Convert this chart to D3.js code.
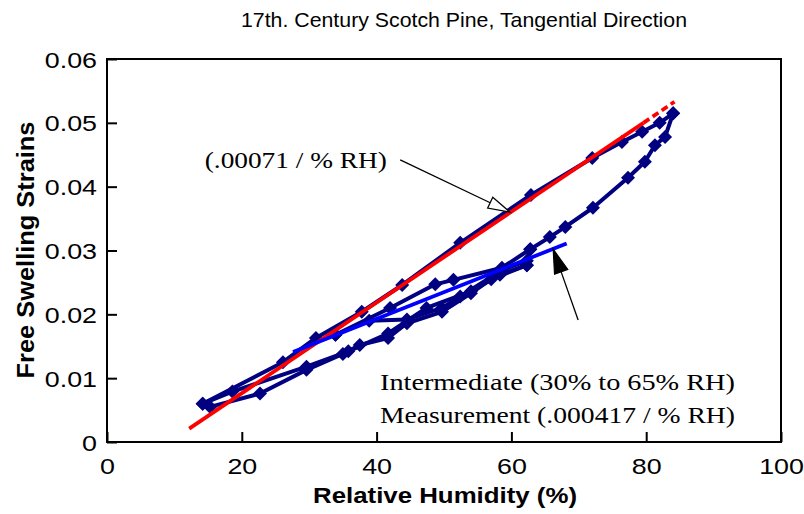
<!DOCTYPE html>
<html><head><meta charset="utf-8">
<script src="https://cdn.jsdelivr.net/npm/d3@7"></script>
<style>body{margin:0;background:#fff}svg{display:block}</style>
</head><body><svg id="c" width="804" height="514"></svg>
<script>
// ---- data ----
const xTicks = [0, 20, 40, 60, 80, 100];
const yTicks = [0, 0.01, 0.02, 0.03, 0.04, 0.05, 0.06];
const yTickLabels = ["0", "0.01", "0.02", "0.03", "0.04", "0.05", "0.06"];

// outer adsorption branch
const rhUp     = [14.2, 26.1, 31.0, 37.8, 43.8, 52.4, 62.9, 72.0, 76.4, 79.4, 82.0, 84.0];
const strainUp = [0.0060, 0.0125, 0.0163, 0.0204, 0.0246, 0.0312, 0.0387, 0.0445, 0.0470, 0.0486, 0.0500, 0.0515];
// outer desorption branch into the intermediate band
const rhDown     = [84.0, 82.8, 81.3, 79.8, 77.3, 72.1, 68.0, 65.7, 62.8, 58.6, 51.4, 48.7, 42.0, 33.9];
const strainDown = [0.0515, 0.0478, 0.0465, 0.0439, 0.0414, 0.0367, 0.0337, 0.0321, 0.0302, 0.0273, 0.0254, 0.0247, 0.0210, 0.0168];
// intermediate cycles (30% - 65% RH)
const rhMid     = [33.9, 38.9, 44.5, 49.7, 52.4, 58.6, 62.3, 62.8];
const strainMid = [0.0168, 0.0190, 0.0192, 0.0210, 0.0228, 0.0269, 0.0284, 0.0302];
const rhLow1     = [14.2, 18.6, 29.6, 35.8, 41.7, 47.4, 54.0, 58.3, 62.3];
const strainLow1 = [0.0060, 0.0079, 0.0118, 0.0142, 0.0170, 0.0210, 0.0236, 0.0262, 0.0277];
const rhLow2     = [62.3, 57.0, 54.0, 49.7, 44.5, 41.7, 37.5, 35.0, 29.6, 22.7, 15.3];
const strainLow2 = [0.0277, 0.0255, 0.0233, 0.0204, 0.0186, 0.0163, 0.0152, 0.0138, 0.0113, 0.0076, 0.0055];

// fitted lines
const redRH = [12.2, 79.6], redStrain = [0.0021, 0.0500];       // .00071 / % RH
const redDashRH = [79.6, 84.2], redDashStrain = [0.0500, 0.0533];
const blueRH = [27.6, 68.2], blueStrain = [0.0141, 0.0311];     // .000417 / % RH

// annotations (data coordinates)
const ann1Text = "(.00071 / % RH)";
const ann1Pos = [14.5, 0.0429];
const arrow1 = {tail: [43.5, 0.0442], tip: [59.8, 0.0360]};
const ann2Lines = ["Intermediate  (30% to 65% RH)", "Measurement (.000417 / % RH)"];
const ann2Pos = [[40.5, 0.00815], [40.5, 0.00298]];
const arrow2 = {tail: [69.9, 0.0191], tip: [66.2, 0.0302]};

const title = "17th. Century Scotch Pine, Tangential Direction";
const xTitle = "Relative Humidity (%)";
const yTitle = "Free Swelling Strains";

// ---- drawing ----
const svg = d3.select("#c");
const L = 107, R = 781, T = 59, B = 442;
const x = d3.scaleLinear().domain([0, 100]).range([L, R]);
const y = d3.scaleLinear().domain([0, 0.06]).range([B, T]);
const SANS = "'Liberation Sans', Arial, Helvetica, sans-serif";
const SERIF = "'Liberation Serif', 'Times New Roman', Times, serif";
const K = 1.22; // horizontal glyph stretch seen in the reference
const NAVY = "#000080";

// axes
const xAxis = d3.axisBottom(x).tickValues(xTicks).tickSizeInner(-10).tickSizeOuter(0).tickFormat(d3.format("d"));
const gx = svg.append("g").attr("transform", `translate(0,${B})`).call(xAxis);
const yAxis = d3.axisLeft(y).tickValues(yTicks).tickSizeInner(-10).tickSizeOuter(0)
  .tickFormat((d, i) => yTickLabels[i]);
const gy = svg.append("g").attr("transform", `translate(${L},0)`).call(yAxis);
[gx, gy].forEach(g => {
  g.select(".domain").remove();
  g.selectAll(".tick line").attr("stroke", "#000").attr("stroke-width", 2);
  g.selectAll(".tick text").attr("fill", "#000").style("font-family", SANS).style("font-size", "22px");
});
gx.selectAll(".tick text").attr("y", 32).attr("dy", null)
  .attr("transform", `scale(${K},1)`).attr("x", 0);
gy.selectAll(".tick text").attr("x", -10 / K).attr("dy", null).attr("y", 8)
  .attr("transform", `scale(${K},1)`);

// frame
svg.append("rect").attr("x", L).attr("y", T).attr("width", R - L).attr("height", B - T)
  .attr("fill", "none").attr("stroke", "#000").attr("stroke-width", 2);

// data series
const series = [
  [rhUp, strainUp], [rhDown, strainDown], [rhMid, strainMid], [rhLow1, strainLow1], [rhLow2, strainLow2]
].map(([a, b]) => a.map((v, i) => [v, b[i]]));
const line = d3.line().x(d => x(d[0])).y(d => y(d[1]));
const gData = svg.append("g");
series.forEach(s => {
  gData.append("path").attr("d", line(s)).attr("fill", "none")
    .attr("stroke", NAVY).attr("stroke-width", 4).attr("stroke-linejoin", "round");
});
series.forEach(s => {
  gData.selectAll(null).data(s).enter().append("path")
    .attr("d", "M0,-7L7,0L0,7L-7,0Z")
    .attr("transform", d => `translate(${x(d[0])},${y(d[1])})`)
    .attr("fill", NAVY);
});

// fitted lines
const zip = (a, b) => a.map((v, i) => [v, b[i]]);
svg.append("path").attr("d", line(zip(redRH, redStrain))).attr("stroke", "#ff0000")
  .attr("stroke-width", 3.8).attr("fill", "none");
svg.append("path").attr("d", line(zip(redDashRH, redDashStrain))).attr("stroke", "#ff0000")
  .attr("stroke-width", 3.8).attr("fill", "none").attr("stroke-dasharray", "7,4");
svg.append("path").attr("d", line(zip(blueRH, blueStrain))).attr("stroke", "#0000ff")
  .attr("stroke-width", 3.8).attr("fill", "none");

// arrows
function arrow(a, hl, hw, filled) {
  const tx = x(a.tip[0]), ty = y(a.tip[1]), sx = x(a.tail[0]), sy = y(a.tail[1]);
  const len = Math.hypot(tx - sx, ty - sy), ux = (tx - sx) / len, uy = (ty - sy) / len;
  const bx = tx - ux * hl, by = ty - uy * hl, px = -uy, py = ux;
  svg.append("line").attr("x1", sx).attr("y1", sy).attr("x2", bx).attr("y2", by)
    .attr("stroke", "#000").attr("stroke-width", 1.3);
  svg.append("path").attr("d", `M${tx},${ty}L${bx + px * hw},${by + py * hw}L${bx - px * hw},${by - py * hw}Z`)
    .attr("fill", filled ? "#000" : "#fff").attr("stroke", "#000").attr("stroke-width", 1.2);
}
arrow(arrow1, 22, 6, false);
arrow(arrow2, 24, 7, true);

// texts
function text(str, px, py, size, family, weight, width, anchor, rot) {
  const t = svg.append("text").text(str)
    .attr("transform", `translate(${px},${py})` + (rot ? ` rotate(${rot})` : ""))
    .attr("text-anchor", anchor || "start")
    .style("font-family", family).style("font-size", size + "px").style("font-weight", weight || "normal")
    .attr("fill", "#000");
  if (width) t.attr("textLength", width).attr("lengthAdjust", "spacingAndGlyphs");
  return t;
}
text(ann1Text, x(ann1Pos[0]), y(ann1Pos[1]), 24, SERIF, "normal", 182);
ann2Lines.forEach((s, i) => text(s, x(ann2Pos[i][0]), y(ann2Pos[i][1]), 24, SERIF, "normal", 355));
text(title, 464, 27, 21, SANS, "normal", 446, "middle");
text(xTitle, 445, 503, 22, SANS, "bold", 264, "middle");
text(yTitle, 34, 250, 24, SANS, "bold", 257, "middle", -90);
</script>
</body></html>
